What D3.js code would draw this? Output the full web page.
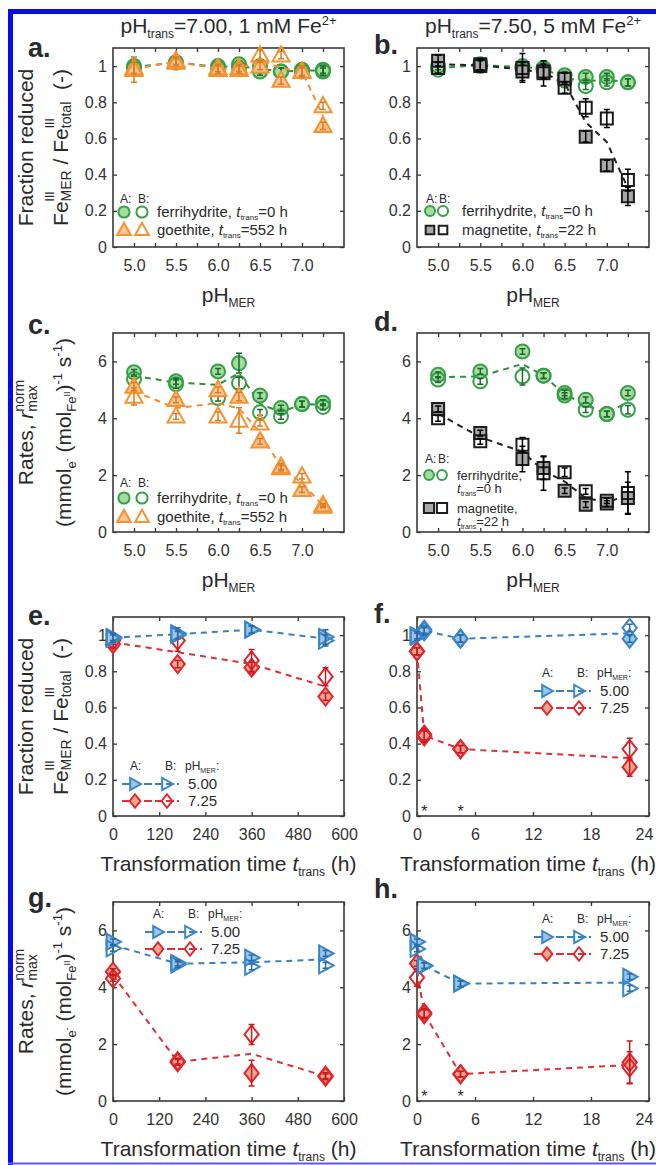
<!DOCTYPE html>
<html lang="en">
<head>
<meta charset="utf-8">
<title>Fe(III) reduction by MER</title>
<script src="https://cdn.jsdelivr.net/npm/d3@7"></script>
<style>
  body { margin: 0; background: #fff; }
  svg text { font-family: "Liberation Sans", Arial, sans-serif; fill: #2a2a2a; white-space: pre; }
</style>
</head>
<body>
<script>
var W = 656, H = 1165;

// x values
var phMER = [5.0, 5.5, 6.0, 6.25, 6.5, 6.75, 7.0, 7.25];
var tLong = [0, 168, 360, 552];
var tShort = [0, 0.75, 4.5, 22];
var starT = [0.75, 4.5];

// ticks
var phTicks = [5.0, 5.25, 5.5, 5.75, 6.0, 6.25, 6.5, 6.75, 7.0, 7.25];
var phLabels = [5.0, 5.5, 6.0, 6.5, 7.0];
var fracTicks = [0, 0.2, 0.4, 0.6, 0.8, 1];
var rateTicks = [0, 2, 4, 6];
var tLongTicks = [0, 120, 240, 360, 480, 600];
var tShortTicks = [0, 6, 12, 18, 24];

// a. fraction reduced, pHtrans 7.00
var aFerriA = [1.00, 1.02, 0.99, 1.01, 0.97, 0.97, 0.97, 0.98];
var aFerriB = [0.99, 1.02, 1.00, 0.99, 1.00, 0.97, 0.98, 0.97];
var aFerriErrA = [0.02, 0.02, 0.02, 0.02, 0.02, 0.02, 0.02, 0.02];
var aFerriErrB = [0.02, 0.02, 0.02, 0.02, 0.02, 0.02, 0.02, 0.02];
var aGoeA = [0.98, 1.02, 0.98, 0.98, 1.00, 0.92, 0.97, 0.67];
var aGoeB = [0.99, 1.03, 0.99, 0.99, 1.06, 1.06, 0.97, 0.78];
var aGoeErrA = [0.07, 0.02, 0.02, 0.02, 0.02, 0.02, 0.02, 0.02];
var aGoeErrB = [0.03, 0.02, 0.02, 0.02, 0.03, 0.02, 0.03, 0.02];

// b. fraction reduced, pHtrans 7.50
var bFerriA = [1.00, 1.01, 1.00, 0.99, 0.95, 0.94, 0.94, 0.91];
var bFerriB = [0.98, 1.00, 0.99, 0.98, 0.92, 0.89, 0.91, 0.91];
var bFerriErrA = [0.02, 0.02, 0.02, 0.02, 0.02, 0.02, 0.02, 0.02];
var bFerriErrB = [0.02, 0.02, 0.02, 0.02, 0.02, 0.02, 0.02, 0.02];
var bMagA = [1.03, 1.01, 0.97, 0.97, 0.93, 0.61, 0.45, 0.28];
var bMagB = [0.99, 1.00, 0.99, 0.96, 0.88, 0.77, 0.71, 0.37];
var bMagErrA = [0.03, 0.03, 0.05, 0.04, 0.03, 0.03, 0.03, 0.05];
var bMagErrB = [0.03, 0.03, 0.08, 0.07, 0.03, 0.05, 0.05, 0.06];

// c. rates, pHtrans 7.00
var cFerriA = [5.62, 5.30, 5.65, 5.94, 4.80, 4.36, 4.50, 4.55];
var cFerriB = [5.38, 5.20, 4.71, 5.24, 4.21, 4.07, 4.50, 4.40];
var cFerriErrA = [0.1, 0.1, 0.1, 0.35, 0.1, 0.1, 0.1, 0.1];
var cFerriErrB = [0.1, 0.15, 0.1, 0.2, 0.1, 0.1, 0.1, 0.1];
var cGoeA = [5.12, 4.65, 5.00, 4.77, 3.19, 2.30, 1.49, 0.95];
var cGoeB = [4.77, 4.07, 4.07, 3.92, 3.83, 2.25, 1.96, 0.90];
var cGoeErrA = [0.15, 0.1, 0.1, 0.15, 0.1, 0.1, 0.1, 0.05];
var cGoeErrB = [0.3, 0.1, 0.15, 0.45, 0.1, 0.1, 0.1, 0.05];

// d. rates, pHtrans 7.50
var dFerriA = [5.53, 5.65, 6.35, 5.50, 4.89, 4.65, 4.15, 4.89];
var dFerriB = [5.36, 5.30, 5.47, 5.50, 4.80, 4.30, 4.15, 4.30];
var dFerriErrA = [0.1, 0.1, 0.1, 0.1, 0.1, 0.1, 0.1, 0.1];
var dFerriErrB = [0.1, 0.1, 0.3, 0.1, 0.1, 0.1, 0.1, 0.15];
var dMagA = [4.33, 3.48, 2.57, 2.25, 1.45, 0.96, 1.00, 1.20];
var dMagB = [4.00, 3.19, 3.07, 2.07, 2.10, 1.43, 1.10, 1.37];
var dMagErrA = [0.1, 0.1, 0.45, 0.4, 0.1, 0.1, 0.1, 0.55];
var dMagErrB = [0.1, 0.1, 0.25, 0.6, 0.15, 0.1, 0.1, 0.75];

// e. fraction reduced vs time, pHtrans 7.00
var eBlueA = [0.99, 1.01, 1.03, 0.99];
var eBlueB = [0.98, 1.00, 1.03, 0.97];
var eBlueErrA = [0.02, 0.03, 0.02, 0.04];
var eBlueErrB = [0.02, 0.02, 0.02, 0.03];
var eRedA = [0.95, 0.84, 0.82, 0.66];
var eRedB = [0.97, 0.97, 0.86, 0.77];
var eRedErrA = [0.02, 0.02, 0.03, 0.02];
var eRedErrB = [0.02, 0.06, 0.06, 0.05];

// f. fraction reduced vs time, pHtrans 7.50
var fBlueA = [0.99, 1.02, 0.98, 0.98];
var fBlueB = [1.00, 1.03, 0.98, 1.04];
var fBlueErrA = [0.02, 0.02, 0.02, 0.02];
var fBlueErrB = [0.02, 0.02, 0.02, 0.02];
var fRedA = [0.91, 0.45, 0.37, 0.27];
var fRedB = [0.91, 0.44, 0.37, 0.37];
var fRedErrA = [0.02, 0.03, 0.02, 0.05];
var fRedErrB = [0.02, 0.03, 0.02, 0.06];

// g. rates vs time, pHtrans 7.00
var gBlueA = [5.60, 4.86, 5.04, 5.19];
var gBlueB = [5.37, 4.80, 4.72, 4.77];
var gBlueErrA = [0.1, 0.1, 0.1, 0.1];
var gBlueErrB = [0.1, 0.1, 0.1, 0.1];
var gRedA = [4.55, 1.40, 0.98, 0.89];
var gRedB = [4.31, 1.36, 2.34, 0.85];
var gRedErrA = [0.1, 0.1, 0.45, 0.1];
var gRedErrB = [0.1, 0.1, 0.35, 0.1];

// h. rates vs time, pHtrans 7.50
var hBlueA = [5.60, 4.76, 4.13, 4.37];
var hBlueB = [5.35, 4.76, 4.13, 3.96];
var hBlueErrA = [0.1, 0.1, 0.1, 0.1];
var hBlueErrB = [0.1, 0.1, 0.1, 0.1];
var hRedA = [4.84, 3.10, 0.94, 1.36];
var hRedB = [4.34, 3.05, 0.95, 1.18];
var hRedErrA = [0.1, 0.15, 0.1, 0.75];
var hRedErrB = [0.3, 0.15, 0.1, 0.55];

var colors = {
  green:  { s: "#35a048", f: "#a6dba0", e: "#1d6a2a", l: "#2f8f40" },
  orange: { s: "#f59231", f: "#f9c697", e: "#e07a1c", l: "#f08c3a" },
  black:  { s: "#1c1c1c", f: "#a9a9a9", e: "#000000", l: "#222222" },
  blue:   { s: "#3a86c6", f: "#9cc6e8", e: "#2a6aa6", l: "#3a7fc0" },
  red:    { s: "#e2262b", f: "#f3a792", e: "#c41c22", l: "#e03034" }
};

var svg = d3.select("body").append("svg").attr("width", W).attr("height", H);
svg.append("rect").attr("width", W).attr("height", H).attr("fill", "#fff");

// blue frame of the figure
svg.append("line").attr("x1", 8).attr("x2", W).attr("y1", 11.5).attr("y2", 11.5)
  .attr("stroke", "#0a0af2").attr("stroke-width", 5);
svg.append("line").attr("x1", 10.5).attr("x2", 10.5).attr("y1", 9).attr("y2", H)
  .attr("stroke", "#0a0af2").attr("stroke-width", 5);
svg.append("line").attr("x1", 8).attr("x2", W).attr("y1", 1163.5).attr("y2", 1163.5)
  .attr("stroke", "#5a5af5").attr("stroke-width", 2);

function rich(t, parts, base) {
  var cur = 0;
  parts.forEach(function(p) {
    var s = t.append("tspan").text(p.t);
    var off = p.dy || 0;
    if (off - cur !== 0) s.attr("dy", off - cur);
    if (p.dx) s.attr("dx", p.dx);
    s.style("font-size", (p.s || base) + "px");
    if (p.it) s.style("font-style", "italic");
    cur = off;
  });
  return t;
}

function shapePath(kind, s) {
  if (kind === "circle") return "M" + s + ",0A" + s + "," + s + " 0 1,1 " + (-s) + ",0A" + s + "," + s + " 0 1,1 " + s + ",0Z";
  if (kind === "triUp") return "M0," + (-s) + "L" + (0.95 * s) + "," + (0.7 * s) + "L" + (-0.95 * s) + "," + (0.7 * s) + "Z";
  if (kind === "triR") return "M" + s + ",0L" + (-0.8 * s) + "," + (-s) + "L" + (-0.8 * s) + "," + s + "Z";
  if (kind === "square") return "M" + (-s) + "," + (-s) + "H" + s + "V" + s + "H" + (-s) + "Z";
  if (kind === "diamond") return "M0," + (-1.2 * s) + "L" + (0.95 * s) + ",0L0," + (1.2 * s) + "L" + (-0.95 * s) + ",0Z";
}

var markSize = { circle: 7, triUp: 9, triR: 8, square: 6, diamond: 7.5 };

var xConf = {
  ph:    { dom: [4.75, 7.5], ticks: phTicks, labels: phLabels, fmt: d3.format(".1f") },
  long:  { dom: [0, 600], ticks: tLongTicks, labels: tLongTicks, fmt: String },
  short: { dom: [0, 24], ticks: tShortTicks, labels: tShortTicks, fmt: String }
};
var yConf = {
  frac: { dom: [0, 1.1], ticks: fracTicks },
  rate: { dom: [0, 7], ticks: rateTicks }
};

var colLeft = [113, 417], colW = [231, 232];
var rowTop = [48, 333, 617, 902], rowH = 199;

function ser(shape, c, A, B, eA, eB) {
  return { shape: shape, c: c, A: A, B: B, eA: eA, eB: eB };
}

var trLabel = function(v) {
  return [{ t: "ferrihydrite, " }, { t: "t", it: true }, { t: "trans", s: 8, dy: 3 }, { t: "=" + v + " h" }];
};

var panels = [
  { id: "a", col: 0, row: 0, xs: phMER, xt: "ph", yt: "frac",
    series: [ser("circle", "green", aFerriA, aFerriB, aFerriErrA, aFerriErrB),
             ser("triUp", "orange", aGoeA, aGoeB, aGoeErrA, aGoeErrB)],
    leg: { type: 1, hA: 7, hB: 25, hy: 155, m1: 11, m2: 29, tx: 44, rows: [164, 182], ms: 0.8, fs: 15,
           items: [{ shape: "circle", c: "green", text: trLabel("0") },
                   { shape: "triUp", c: "orange", text: [{ t: "goethite, " }, { t: "t", it: true }, { t: "trans", s: 8, dy: 3 }, { t: "=552 h" }] }] } },
  { id: "b", col: 1, row: 0, xs: phMER, xt: "ph", yt: "frac",
    series: [ser("circle", "green", bFerriA, bFerriB, bFerriErrA, bFerriErrB),
             ser("square", "black", bMagA, bMagB, bMagErrA, bMagErrB)],
    leg: { type: 1, hA: 9, hB: 22, hy: 155, m1: 13, m2: 26, tx: 45, rows: [163, 182], ms: 0.72, fs: 15,
           items: [{ shape: "circle", c: "green", text: trLabel("0") },
                   { shape: "square", c: "black", text: [{ t: "magnetite, " }, { t: "t", it: true }, { t: "trans", s: 8, dy: 3 }, { t: "=22 h" }] }] } },
  { id: "c", col: 0, row: 1, xs: phMER, xt: "ph", yt: "rate",
    series: [ser("circle", "green", cFerriA, cFerriB, cFerriErrA, cFerriErrB),
             ser("triUp", "orange", cGoeA, cGoeB, cGoeErrA, cGoeErrB)],
    leg: { type: 1, hA: 7, hB: 25, hy: 154, m1: 11, m2: 29, tx: 44, rows: [165, 184], ms: 0.8, fs: 15,
           items: [{ shape: "circle", c: "green", text: trLabel("0") },
                   { shape: "triUp", c: "orange", text: [{ t: "goethite, " }, { t: "t", it: true }, { t: "trans", s: 8, dy: 3 }, { t: "=552 h" }] }] } },
  { id: "d", col: 1, row: 1, xs: phMER, xt: "ph", yt: "rate",
    series: [ser("circle", "green", dFerriA, dFerriB, dFerriErrA, dFerriErrB),
             ser("square", "black", dMagA, dMagB, dMagErrA, dMagErrB)],
    leg: { type: 3 } },
  { id: "e", col: 0, row: 2, xs: tLong, xt: "long", yt: "frac",
    series: [ser("diamond", "red", eRedA, eRedB, eRedErrA, eRedErrB),
             ser("triR", "blue", eBlueA, eBlueB, eBlueErrA, eBlueErrB)],
    leg: { type: 2, lx: 9, hy: 153 } },
  { id: "f", col: 1, row: 2, xs: tShort, xt: "short", yt: "frac", stars: true,
    series: [ser("diamond", "red", fRedA, fRedB, fRedErrA, fRedErrB),
             ser(["triR", "diamond", "diamond", "diamond"], "blue", fBlueA, fBlueB, fBlueErrA, fBlueErrB)],
    leg: { type: 2, lx: 117, hy: 60 } },
  { id: "g", col: 0, row: 3, xs: tLong, xt: "long", yt: "rate",
    series: [ser("diamond", "red", gRedA, gRedB, gRedErrA, gRedErrB),
             ser("triR", "blue", gBlueA, gBlueB, gBlueErrA, gBlueErrB)],
    leg: { type: 2, lx: 32, hy: 16 } },
  { id: "h", col: 1, row: 3, xs: tShort, xt: "short", yt: "rate", stars: true,
    series: [ser("diamond", "red", hRedA, hRedB, hRedErrA, hRedErrB),
             ser("triR", "blue", hBlueA, hBlueB, hBlueErrA, hBlueErrB)],
    leg: { type: 2, lx: 117, hy: 21 } }
];

function drawMarker(g, kind, cx, cy, c, filled, scale) {
  g.append("path")
    .attr("d", shapePath(kind, markSize[kind] * (scale || 1)))
    .attr("transform", "translate(" + cx + "," + cy + ")")
    .attr("fill", filled ? colors[c].f : "none")
    .attr("stroke", colors[c].s)
    .attr("stroke-width", 2);
}

panels.forEach(function(p) {
  var w = colW[p.col], h = rowH;
  var left = colLeft[p.col], top = rowTop[p.row];
  var xc = xConf[p.xt], yc = yConf[p.yt];
  var g = svg.append("g").attr("transform", "translate(" + left + "," + top + ")");
  var x = d3.scaleLinear().domain(xc.dom).range([0, w]);
  var y = d3.scaleLinear().domain(yc.dom).range([h, 0]);

  var xf = function(d) { return xc.labels.indexOf(d) >= 0 ? xc.fmt(d) : ""; };
  var xb = g.append("g").attr("class", "ax").attr("transform", "translate(0," + h + ")")
    .call(d3.axisBottom(x).tickValues(xc.ticks).tickSize(-4).tickPadding(13).tickFormat(xf));
  // last time label sits a little inside the page edge
  if (p.col === 1 && p.xt === "short") {
    xb.selectAll(".tick text").filter(function(d) { return d === 24; }).attr("dx", -5);
  }
  g.append("g").attr("class", "ax")
    .call(d3.axisTop(x).tickValues(xc.ticks).tickSize(-4).tickFormat(""));
  g.append("g").attr("class", "ax")
    .call(d3.axisLeft(y).tickValues(yc.ticks).tickSize(-4).tickPadding(6).tickFormat(String));
  g.append("g").attr("class", "ax").attr("transform", "translate(" + w + ",0)")
    .call(d3.axisRight(y).tickValues(yc.ticks).tickSize(-4).tickFormat(""));
  g.selectAll(".ax .domain").remove();
  g.selectAll(".ax line").attr("stroke", "#333").attr("stroke-width", 1.3);
  g.selectAll(".ax text").style("font-size", "16px").style("fill", "#333");

  g.append("rect").attr("width", w).attr("height", h)
    .attr("fill", "none").attr("stroke", "#3a3a3a").attr("stroke-width", 1.6);

  var plot = g.append("g");
  p.series.forEach(function(s) {
    var col = colors[s.c];
    var mean = s.A.map(function(v, i) { return (v + s.B[i]) / 2; });
    plot.append("path").datum(mean)
      .attr("d", d3.line().x(function(d, i) { return x(p.xs[i]); }).y(function(d) { return y(d); }))
      .attr("fill", "none").attr("stroke", col.l).attr("stroke-width", 2)
      .attr("stroke-dasharray", "6,5");
    [["A", "eA", true], ["B", "eB", false]].forEach(function(k) {
      s[k[0]].forEach(function(v, i) {
        var kind = Array.isArray(s.shape) ? s.shape[i] : s.shape;
        drawMarker(plot, kind, x(p.xs[i]), y(v), s.c, k[2]);
      });
    });
    [["A", "eA"], ["B", "eB"]].forEach(function(k) {
      s[k[0]].forEach(function(v, i) {
        var e = s[k[1]][i], cx = x(p.xs[i]);
        var y1 = y(v - e), y2 = y(v + e);
        plot.append("path")
          .attr("d", "M" + cx + "," + y1 + "V" + y2 + "M" + (cx - 3) + "," + y1 + "H" + (cx + 3) + "M" + (cx - 3) + "," + y2 + "H" + (cx + 3))
          .attr("stroke", col.e).attr("stroke-width", 1.5).attr("fill", "none");
      });
    });
  });

  if (p.stars) {
    starT.forEach(function(t) {
      g.append("text").attr("x", x(t)).attr("y", h + 1).attr("text-anchor", "middle")
        .style("font-size", "16px").text("*");
    });
  }

  // panel letter
  var lx = p.col === 0 ? 28 : 374;
  var ly = { a: 57, b: 54, c: 334, d: 331, e: 625, f: 623, g: 907, h: 898 }[p.id];
  svg.append("text").attr("x", lx).attr("y", ly).style("font-size", "27px")
    .style("font-weight", "bold").text(p.id + ".");

  // x label
  var xlx = left + w / 2 - (p.col === 1 && p.xt !== "ph" ? 5 : 0);
  var xl = svg.append("text").attr("x", xlx).attr("y", top + h + 55)
    .attr("text-anchor", "middle").style("font-size", "21px");
  if (p.xt === "ph") {
    rich(xl, [{ t: "pH" }, { t: "MER", s: 12, dy: 5 }], 21);
  } else {
    rich(xl, [{ t: "Transformation time " }, { t: "t", it: true }, { t: "trans", s: 12, dy: 5 }, { t: " (h)" }], 21);
  }

  // legends
  var L = p.leg;
  if (L.type === 1) {
    g.append("text").attr("x", L.hA).attr("y", L.hy).style("font-size", "12px").text("A:");
    g.append("text").attr("x", L.hB).attr("y", L.hy).style("font-size", "12px").text("B:");
    L.items.forEach(function(it, j) {
      var ry = L.rows[j];
      drawMarker(g, it.shape, L.m1, ry, it.c, true, L.ms);
      drawMarker(g, it.shape, L.m2, ry, it.c, false, L.ms);
      rich(g.append("text").attr("x", L.tx).attr("y", ry + 5), it.text, L.fs);
    });
  } else if (L.type === 3) {
    g.append("text").attr("x", 8).attr("y", 130).style("font-size", "12px").text("A:");
    g.append("text").attr("x", 21).attr("y", 130).style("font-size", "12px").text("B:");
    drawMarker(g, "circle", 12, 142, "green", true, 0.7);
    drawMarker(g, "circle", 25, 142, "green", false, 0.7);
    drawMarker(g, "square", 12, 175, "black", true, 0.85);
    drawMarker(g, "square", 25, 175, "black", false, 0.85);
    g.append("text").attr("x", 40).attr("y", 147).style("font-size", "13px").text("ferrihydrite,");
    rich(g.append("text").attr("x", 40).attr("y", 160),
      [{ t: "t", it: true }, { t: "trans", s: 7, dy: 3 }, { t: "=0 h" }], 13);
    g.append("text").attr("x", 40).attr("y", 180).style("font-size", "13px").text("magnetite,");
    rich(g.append("text").attr("x", 40).attr("y", 193),
      [{ t: "t", it: true }, { t: "trans", s: 7, dy: 3 }, { t: "=22 h" }], 13);
  } else if (L.type === 2) {
    g.append("text").attr("x", L.lx + 8).attr("y", L.hy).style("font-size", "12px").text("A:");
    g.append("text").attr("x", L.lx + 43).attr("y", L.hy).style("font-size", "12px").text("B:");
    rich(g.append("text").attr("x", L.lx + 63).attr("y", L.hy),
      [{ t: "pH" }, { t: "MER", s: 7, dy: 3 }, { t: ":" }], 12);
    var rowsL = [{ shape: "triR", c: "blue", t: "5.00" }, { shape: "diamond", c: "red", t: "7.25" }];
    rowsL.forEach(function(r, j) {
      var ry = L.hy + 14 + j * 17;
      g.append("line").attr("x1", L.lx).attr("x2", L.lx + 57).attr("y1", ry).attr("y2", ry)
        .attr("stroke", colors[r.c].l).attr("stroke-width", 2).attr("stroke-dasharray", "8,3");
      drawMarker(g, r.shape, L.lx + 13, ry, r.c, true, 0.75);
      drawMarker(g, r.shape, L.lx + 45, ry, r.c, false, 0.75);
      g.append("text").attr("x", L.lx + 66).attr("y", ry + 5).style("font-size", "15px").text(r.t);
    });
  }

  // y labels on left column
  if (p.col === 0) {
    var cy = top + h / 2;
    var l1 = svg.append("text").attr("transform", "translate(33," + cy + ") rotate(-90)")
      .attr("text-anchor", "middle").style("font-size", "21px");
    var l2 = svg.append("text").attr("transform", "translate(" + (p.yt === "frac" ? 68 : 71) + "," + cy + ") rotate(-90)")
      .attr("text-anchor", "middle").style("font-size", "21px");
    if (p.yt === "frac") {
      rich(l1, [{ t: "Fraction reduced" }], 21);
      rich(l2, [{ t: "Fe" }, { t: "III", s: 12, dy: -14 }, { t: "MER", s: 14, dy: 3, dx: -10 },
                { t: " / Fe" }, { t: "III", s: 12, dy: -14 }, { t: "total", s: 14, dy: 3, dx: -10 },
                { t: "  (-)" }], 21);
    } else {
      rich(l1, [{ t: "Rates, " }, { t: "r", it: true }, { t: "norm", s: 14, dy: -9 },
                { t: "max", s: 14, dy: 4, dx: -32 }], 21);
      rich(l2, [{ t: "(mmol" }, { t: "e", s: 13, dy: 5 }, { t: "-", s: 9, dy: -1 },
                { t: " (mol" }, { t: "Fe", s: 13, dy: 5 }, { t: "II", s: 9, dy: -1 },
                { t: ")" }, { t: "-1", s: 13, dy: -9 }, { t: " s" }, { t: "-1", s: 13, dy: -9 }, { t: ")" }], 21);
    }
  }

  // column titles
  if (p.row === 0) {
    var tt = svg.append("text").attr("x", left + w / 2).attr("y", 33)
      .attr("text-anchor", "middle").style("font-size", "21px");
    rich(tt, [{ t: "pH" }, { t: "trans", s: 12, dy: 5 },
              { t: p.col === 0 ? "=7.00, 1 mM Fe" : "=7.50, 5 mM Fe" }, { t: "2+", s: 13, dy: -8 }], 21);
  }
});
</script>
</body>
</html>
